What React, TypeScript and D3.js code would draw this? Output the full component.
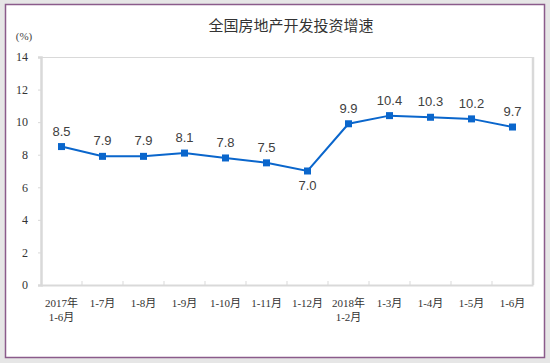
import React, { useEffect, useRef } from "react";
import * as d3 from "d3";

const categories = [
  "2017年\n1-6月", "1-7月", "1-8月", "1-9月", "1-10月", "1-11月",
  "1-12月", "2018年\n1-2月", "1-3月", "1-4月", "1-5月", "1-6月",
];
const values = [8.5, 7.9, 7.9, 8.1, 7.8, 7.5, 7.0, 9.9, 10.4, 10.3, 10.2, 9.7];
const yTicks = [0, 2, 4, 6, 8, 10, 12, 14];

const title = "全国房地产开发投资增速";
const unit = "(%)";

export default function App() {
  const ref = useRef<SVGSVGElement>(null);

  useEffect(() => {
    const svg = d3.select(ref.current);
    svg.selectAll("*").remove();
    const width = 550, height = 363;
    const m = { top: 57, left: 41, right: 17, bottom: 78 };
    const iw = width - m.left - m.right;
    const ih = height - m.top - m.bottom;

    // background and frame
    svg.append("rect").attr("width", width).attr("height", height).attr("fill", "#e6e6e6");
    svg.append("rect").attr("x", 5.5).attr("y", 4.5).attr("width", 539).attr("height", 353)
      .attr("fill", "#fff").attr("stroke", "#8b5b8b").attr("stroke-width", 1.5);

    svg.append("text").attr("x", 291).attr("y", 31).attr("text-anchor", "middle")
      .attr("font-family", "'Noto Sans CJK SC', sans-serif").attr("font-size", 15)
      .attr("fill", "#333").text(title);

    svg.append("text").attr("x", 24).attr("y", 40).attr("text-anchor", "middle")
      .attr("font-family", "'Liberation Serif', serif").attr("font-size", 11)
      .attr("fill", "#444").text(unit);

    const x = d3.scaleBand().domain(categories).range([0, iw]);
    const y = d3.scaleLinear().domain([0, 14]).range([ih, 0]);

    const g = svg.append("g").attr("transform", `translate(${m.left},${m.top})`);

    // plot border
    g.append("line").attr("x1", 0).attr("x2", iw).attr("y1", 0.5).attr("y2", 0.5)
      .attr("stroke", "#d9d9d9");
    g.append("line").attr("x1", iw).attr("x2", iw).attr("y1", 0).attr("y2", ih)
      .attr("stroke", "#d9d9d9").attr("stroke-width", 2.5);

    // y axis
    const ya = g.append("g").call(d3.axisLeft(y).tickValues(yTicks).tickSize(3).tickPadding(10));
    ya.select(".domain").attr("stroke", "#d9d9d9").attr("stroke-width", 2.5);
    ya.selectAll(".tick line").attr("stroke", "#d9d9d9");
    ya.selectAll("text").attr("font-family", "'Liberation Serif', serif")
      .attr("font-size", 12).attr("fill", "#333");

    // x axis
    const xa = g.append("g").attr("transform", `translate(0,${ih})`)
      .call(d3.axisBottom(x).tickSize(0).tickFormat(() => ""));
    xa.select(".domain").attr("stroke", "#d9d9d9").attr("stroke-width", 2);
    xa.selectAll(".tick text").remove();
    g.selectAll(".xtick").data(categories.slice(1)).enter().append("line")
      .attr("x1", d => x(d)!).attr("x2", d => x(d)!)
      .attr("y1", ih).attr("y2", ih - 4).attr("stroke", "#d9d9d9");

    const labels = g.selectAll(".xl").data(categories).enter().append("text")
      .attr("text-anchor", "middle")
      .attr("font-family", "'Liberation Serif', 'Noto Sans CJK SC', serif")
      .attr("font-size", 11).attr("fill", "#333")
      .attr("transform", d => `translate(${x(d)! + x.bandwidth() / 2},${ih + 22})`);
    labels.each(function (d) {
      const t = d3.select(this);
      d.split("\n").forEach((s, i) => {
        t.append("tspan").attr("x", 0).attr("y", i * 14).text(s);
      });
    });

    const cx = (i: number) => x(categories[i])! + x.bandwidth() / 2;
    const line = d3.line<number>().x((_, i) => cx(i)).y(d => y(d));
    g.append("path").datum(values).attr("d", line).attr("fill", "none")
      .attr("stroke", "#0a66cc").attr("stroke-width", 2);

    g.selectAll(".pt").data(values).enter().append("rect")
      .attr("x", (_, i) => cx(i) - 3.5).attr("y", d => y(d) - 3.5)
      .attr("width", 7).attr("height", 7).attr("fill", "#0a66cc");

    g.selectAll(".vl").data(values).enter().append("text")
      .attr("x", (_, i) => cx(i))
      .attr("y", (d, i) => (i === 6 ? y(d) + 19 : y(d) - 11))
      .attr("text-anchor", "middle")
      .attr("font-family", "'Liberation Sans', Arial, sans-serif").attr("font-size", 13)
      .attr("fill", "#404040").text(d => d.toFixed(1));
  }, []);

  return (
    <div style={{ position: "absolute", left: 0, top: 0 }}>
      <svg ref={ref} width={550} height={363} style={{ display: "block" }} />
    </div>
  );
}
